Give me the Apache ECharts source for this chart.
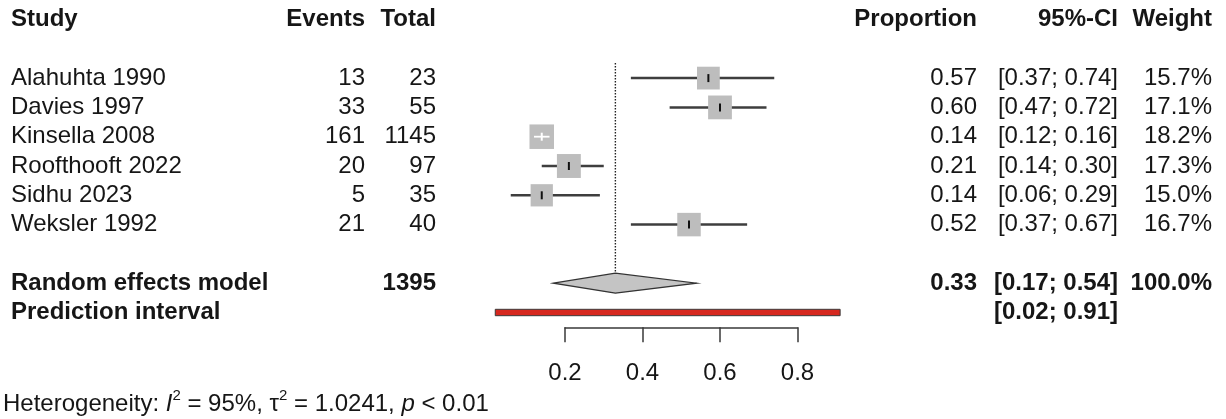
<!DOCTYPE html>
<html><head><meta charset="utf-8">
<script src="https://cdn.jsdelivr.net/npm/echarts@6/dist/echarts.min.js"></script>
<style>html,body{margin:0;padding:0;background:#fff}#c{width:1226px;height:419px}</style>
</head><body><div id="c"></div>
<script>
// ---------------- data ----------------
const studies = ['Alahuhta 1990', 'Davies 1997', 'Kinsella 2008', 'Roofthooft 2022', 'Sidhu 2023', 'Weksler 1992'];
const events = [13, 33, 161, 20, 5, 21];
const totals = [23, 55, 1145, 97, 35, 40];
const proportions = [0.57, 0.60, 0.14, 0.21, 0.14, 0.52];
const ciLower = [0.37, 0.47, 0.12, 0.14, 0.06, 0.37];
const ciUpper = [0.74, 0.72, 0.16, 0.30, 0.29, 0.67];
const weights = [15.7, 17.1, 18.2, 17.3, 15.0, 16.7];
const pooledTotal = 1395;
const pooled = [0.33, 0.17, 0.54];          // estimate, lower, upper
const pooledWeight = '100.0%';
const predictionInterval = [0.02, 0.91];
const tickLabels = ['0.2', '0.4', '0.6', '0.8'];
const headers = ['Study', 'Events', 'Total', 'Proportion', '95%-CI', 'Weight'];
const heterogeneity = ['95%', '1.0241', '< 0.01']; // I^2, tau^2, p

// ---------------- layout ----------------
const FONT = "'Liberation Sans', Arial, Helvetica, sans-serif";
const FS = 24;
const TXT = '#161616';
const ROW = 29.3, TOP = 19.5, YMAX = 13.2;
const X0 = 487.5, XW = 387.5;      // pixel of proportion 0 and width of one unit
const COL = {study: 11, events: 365, total: 436, prop: 977, ci: 1118, weight: 1212, het: 3};

const studyRows = studies.map((s, i) => i + 2);
const pooledRow = 9, predRow = 10, hetRow = (404.5 - TOP) / ROW;

const fmt2 = v => v.toFixed(2);
const ciText = (lo, hi) => '[' + fmt2(lo) + '; ' + fmt2(hi) + ']';

const textRows = [];
function addText(k, x, align, text, bold, rich) { textRows.push({k, x, align, text, bold, rich}); }
addText(0, COL.study, 'left', headers[0], true);
addText(0, COL.events, 'right', headers[1], true);
addText(0, COL.total, 'right', headers[2], true);
addText(0, COL.prop, 'right', headers[3], true);
addText(0, COL.ci, 'right', headers[4], true);
addText(0, COL.weight, 'right', headers[5], true);
studies.forEach((s, i) => {
  const k = studyRows[i];
  addText(k, COL.study, 'left', s, false);
  addText(k, COL.events, 'right', String(events[i]), false);
  addText(k, COL.total, 'right', String(totals[i]), false);
  addText(k, COL.prop, 'right', fmt2(proportions[i]), false);
  addText(k, COL.ci, 'right', ciText(ciLower[i], ciUpper[i]), false);
  addText(k, COL.weight, 'right', weights[i].toFixed(1) + '%', false);
});
addText(pooledRow, COL.study, 'left', 'Random effects model', true);
addText(pooledRow, COL.total, 'right', String(pooledTotal), true);
addText(pooledRow, COL.prop, 'right', fmt2(pooled[0]), true);
addText(pooledRow, COL.ci, 'right', ciText(pooled[1], pooled[2]), true);
addText(pooledRow, COL.weight, 'right', pooledWeight, true);
addText(predRow, COL.study, 'left', 'Prediction interval', true);
addText(predRow, COL.ci, 'right', ciText(predictionInterval[0], predictionInterval[1]), true);
addText(hetRow, COL.het, 'left',
  '{n|Heterogeneity: }{it|I}{sup|2}{n| = ' + heterogeneity[0] + ', τ}{sup|2}{n| = ' + heterogeneity[1] + ', }{it|p}{n| ' + heterogeneity[2] + '}',
  false, true);

const richStyles = {
  n: {fontSize: FS, fontFamily: FONT, fill: TXT, lineHeight: 28, verticalAlign: 'middle'},
  it: {fontSize: FS, fontFamily: FONT, fontStyle: 'italic', fill: TXT, lineHeight: 28, verticalAlign: 'middle'},
  sup: {fontSize: 15, fontFamily: FONT, fill: TXT, lineHeight: 14, padding: [0, 0, 18, 0], verticalAlign: 'middle'}
};

const chart = echarts.init(document.getElementById('c'), null, {renderer: 'canvas'});

const option = {
  animation: false,
  backgroundColor: '#ffffff',
  grid: [
    {left: X0, width: XW, top: TOP, height: ROW * YMAX, containLabel: false},
    {left: X0 + 0.2 * XW, width: 0.6 * XW, top: 326.3, height: 1, containLabel: false}
  ],
  xAxis: [
    {gridIndex: 0, type: 'value', min: 0, max: 1, show: false},
    {gridIndex: 1, type: 'category', data: tickLabels, boundaryGap: false, position: 'bottom',
     axisLine: {show: true, lineStyle: {color: '#3a3a3a', width: 1.5}},
     axisTick: {show: true, length: 15, inside: false, lineStyle: {color: '#3a3a3a', width: 1.5}},
     axisLabel: {show: true, margin: 34, fontSize: FS, fontFamily: FONT, color: TXT},
     splitLine: {show: false}}
  ],
  yAxis: [
    {gridIndex: 0, type: 'value', min: 0, max: YMAX, inverse: true, show: false},
    {gridIndex: 1, type: 'value', min: 0, max: 1, show: false}
  ],
  series: [
    // dotted vertical line at pooled estimate
    {type: 'custom', xAxisIndex: 0, yAxisIndex: 0, silent: true, clip: false,
     data: [[pooled[0], 1.485, pooledRow - 0.34]],
     renderItem: (params, api) => {
       const a = api.coord([api.value(0), api.value(1)]);
       const b = api.coord([api.value(0), api.value(2)]);
       return {type: 'line', shape: {x1: a[0], y1: a[1], x2: b[0], y2: b[1]},
               style: {stroke: '#222', lineWidth: 1.4, lineDash: [1.5, 1.5]}};
     }},
    // studies: CI lines, weighted squares, estimate ticks
    {type: 'custom', xAxisIndex: 0, yAxisIndex: 0, silent: true, clip: false,
     data: proportions.map((p, i) => [p, studyRows[i], ciLower[i], ciUpper[i], weights[i]]),
     renderItem: (params, api) => {
       const k = api.value(1);
       const c = api.coord([api.value(0), k]);
       const l = api.coord([api.value(2), k]);
       const h = api.coord([api.value(3), k]);
       const size = 5.75 * Math.sqrt(api.value(4));
       const inside = (c[0] - l[0] < size / 2) && (h[0] - c[0] < size / 2);
       const children = [];
       if (!inside) children.push({type: 'line', shape: {x1: l[0], y1: l[1], x2: h[0], y2: h[1]},
         style: {stroke: '#3e3e3e', lineWidth: 2.5}});
       children.push({type: 'rect', shape: {x: c[0] - size / 2, y: c[1] - size / 2, width: size, height: size},
         style: {fill: '#bdbdbd'}});
       if (inside) children.push({type: 'line', shape: {x1: l[0], y1: l[1], x2: h[0], y2: h[1]},
         style: {stroke: '#ffffff', lineWidth: 1.8}});
       children.push({type: 'line', shape: {x1: c[0], y1: c[1] - 4, x2: c[0], y2: c[1] + 4},
         style: {stroke: inside ? '#ffffff' : '#111', lineWidth: 2}});
       return {type: 'group', children};
     }},
    // pooled diamond
    {type: 'custom', xAxisIndex: 0, yAxisIndex: 0, silent: true, clip: false,
     data: [[pooled[0], pooledRow, pooled[1], pooled[2]]],
     renderItem: (params, api) => {
       const k = api.value(1);
       const c = api.coord([api.value(0), k]);
       const l = api.coord([api.value(2), k]);
       const h = api.coord([api.value(3), k]);
       return {type: 'polygon', shape: {points: [[l[0], c[1]], [c[0], c[1] - 10], [h[0], c[1]], [c[0], c[1] + 10]]},
               style: {fill: '#c4c4c4', stroke: '#333', lineWidth: 1.2}};
     }},
    // prediction interval
    {type: 'custom', xAxisIndex: 0, yAxisIndex: 0, silent: true, clip: false,
     data: [[predictionInterval[0], predictionInterval[1], predRow]],
     renderItem: (params, api) => {
       const a = api.coord([api.value(0), api.value(2)]);
       const b = api.coord([api.value(1), api.value(2)]);
       return {type: 'rect', shape: {x: a[0], y: a[1] - 3.2, width: b[0] - a[0], height: 6.4},
               style: {fill: '#d6281f', stroke: '#3a3a3a', lineWidth: 1}};
     }},
    // table text
    {type: 'custom', xAxisIndex: 0, yAxisIndex: 0, silent: true, clip: false,
     data: textRows.map(r => [0, r.k]),
     renderItem: (params, api) => {
       const r = textRows[params.dataIndex];
       const y = api.coord([0, api.value(1)])[1];
       const style = {x: r.x, y: y, text: r.text, align: r.align, verticalAlign: 'middle',
                      fontSize: FS, fontFamily: FONT, fontWeight: r.bold ? 'bold' : 'normal', fill: TXT};
       if (r.rich) style.rich = richStyles;
       return {type: 'text', style};
     }}
  ]
};
chart.setOption(option);
</script>
</body></html>
